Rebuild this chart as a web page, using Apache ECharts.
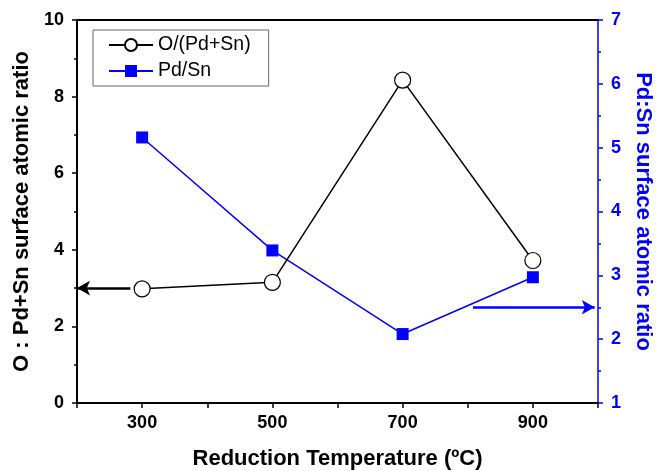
<!DOCTYPE html>
<html>
<head>
<meta charset="utf-8">
<script src="https://cdn.jsdelivr.net/npm/echarts@6/dist/echarts.min.js"></script>
<style>
html,body{margin:0;padding:0;background:#fff;}
#chart{width:656px;height:471px;}
</style>
</head>
<body>
<div id="chart"></div>
<script>
// Data
const temperatures = [300, 500, 700, 900];
const oRatio = [2.98, 3.15, 8.43, 3.72];      // O/(Pd+Sn), left axis
const pdSnRatio = [5.16, 3.39, 2.08, 2.97];   // Pd/Sn, right axis
const xTickLabels = [300, 500, 700, 900];
const seriesNames = ['O/(Pd+Sn)', 'Pd/Sn'];

const FONT = 'Liberation Sans, Arial, sans-serif';
const BLUE = '#0000ff';

const chart = echarts.init(document.getElementById('chart'), null, {renderer: 'canvas'});

const option = {
  backgroundColor: '#ffffff',
  animation: false,
  grid: {left: 77, right: 58, top: 20, bottom: 68, containLabel: false, outerBoundsMode: 'none'},
  legend: {
    orient: 'vertical',
    left: 93, top: 30,
    data: seriesNames,
    itemWidth: 44, itemHeight: 15, itemGap: 6,
    padding: [5, 18, 5, 15],
    borderColor: '#666', borderWidth: 1,
    textStyle: {fontFamily: FONT, fontSize: 19.5, color: '#000'}
  },
  xAxis: [{
    type: 'value', min: 200, max: 1000, interval: 100,
    position: 'bottom',
    name: 'Reduction Temperature (ºC)', nameLocation: 'middle', nameGap: 45,
    nameTextStyle: {fontFamily: FONT, fontSize: 22, fontWeight: 'bold', color: '#000'},
    axisLine: {lineStyle: {color: '#000', width: 2}},
    axisTick: {show: true, inside: false, length: 5, lineStyle: {color: '#000', width: 1.5}},
    axisLabel: {
      fontFamily: FONT, fontSize: 18, fontWeight: 'bold', color: '#000', margin: 11,
      formatter: v => (xTickLabels.indexOf(v) >= 0 ? String(v) : '')
    },
    splitLine: {show: false}
  }, {
    type: 'value', min: 200, max: 1000, position: 'top',
    axisLine: {lineStyle: {color: '#000', width: 2}},
    axisTick: {show: false}, axisLabel: {show: false}, splitLine: {show: false}
  }],
  yAxis: [{
    type: 'value', min: 0, max: 10, interval: 2, position: 'left',
    name: 'O : Pd+Sn surface atomic ratio', nameLocation: 'middle', nameGap: 42,
    nameTextStyle: {fontFamily: FONT, fontSize: 22, fontWeight: 'bold', color: '#000'},
    axisLine: {show: true, lineStyle: {color: '#000', width: 2}},
    axisTick: {show: true, length: 5, lineStyle: {color: '#000', width: 1.5}},
    minorTick: {show: true, splitNumber: 2, length: 3, lineStyle: {color: '#000', width: 1.5}},
    axisLabel: {fontFamily: FONT, fontSize: 18, fontWeight: 'bold', color: '#000', margin: 13},
    splitLine: {show: false}
  }, {
    type: 'value', min: 1, max: 7, interval: 1, position: 'right',
    name: 'Pd:Sn surface atomic ratio', nameLocation: 'middle', nameGap: 33, nameRotate: -90,
    nameTextStyle: {fontFamily: FONT, fontSize: 22, fontWeight: 'bold', color: BLUE},
    axisLine: {show: true, lineStyle: {color: BLUE, width: 1.5}},
    axisTick: {show: true, length: 5, lineStyle: {color: BLUE, width: 1.5}},
    minorTick: {show: true, splitNumber: 2, length: 3, lineStyle: {color: BLUE, width: 1.5}},
    axisLabel: {fontFamily: FONT, fontSize: 18, fontWeight: 'bold', color: BLUE, margin: 13},
    splitLine: {show: false}
  }],
  series: [{
    name: seriesNames[1], type: 'line', yAxisIndex: 1,
    data: temperatures.map((t, i) => [t, pdSnRatio[i]]),
    symbol: 'rect', symbolSize: 12,
    lineStyle: {color: BLUE, width: 1.5},
    itemStyle: {color: BLUE},
    z: 2,
    markLine: {
      silent: true, symbol: ['none', 'arrow'], symbolSize: [11, 13],
      label: {show: false},
      lineStyle: {color: BLUE, width: 2.5, type: 'solid'},
      data: [[{coord: [808, 2.5]}, {coord: [995, 2.5]}]]
    }
  }, {
    name: seriesNames[0], type: 'line', yAxisIndex: 0,
    data: temperatures.map((t, i) => [t, oRatio[i]]),
    symbol: 'circle', symbolSize: 16,
    lineStyle: {color: '#000', width: 1.5},
    itemStyle: {color: '#fff', borderColor: '#000', borderWidth: 1.2},
    z: 3,
    markLine: {
      silent: true, symbol: ['none', 'arrow'], symbolSize: [11, 13],
      label: {show: false},
      lineStyle: {color: '#000', width: 2.5, type: 'solid'},
      data: [[{coord: [282, 3]}, {coord: [200, 3]}]]
    }
  }]
};
chart.setOption(option);
</script>
</body>
</html>
